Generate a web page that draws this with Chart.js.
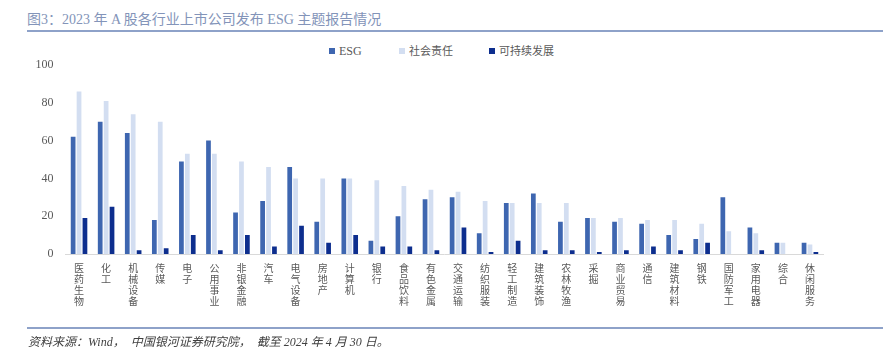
<!DOCTYPE html>
<html><head><meta charset="utf-8">
<script src="https://cdn.jsdelivr.net/npm/chart.js@4/dist/chart.umd.min.js"></script>
<style>
html,body{margin:0;padding:0;background:#fff;width:883px;height:364px;overflow:hidden;}
#wrap{position:relative;width:883px;height:364px;}
#title{position:absolute;left:27px;top:8px;font-family:"Liberation Serif","Noto Sans CJK SC",serif;font-size:14px;color:#8394b9;white-space:nowrap;}
#tline{position:absolute;left:27px;top:30px;width:856px;height:0;border-top:2px solid #8ea2c9;}
#fline{position:absolute;left:27px;top:327px;width:856px;height:0;border-top:2px solid #8ea2c9;}
#foot{position:absolute;left:28px;top:332px;font-family:"Liberation Serif","Noto Sans CJK SC",serif;font-style:italic;font-size:12px;color:#404040;white-space:pre;}
.lg{position:absolute;top:43px;font-family:"Liberation Serif","Noto Sans CJK SC",serif;color:#595959;white-space:nowrap;line-height:16px;}
.sq{position:absolute;top:48px;width:6px;height:6px;}
canvas{position:absolute;left:0;top:0;}
</style></head>
<body><div id="wrap">
<div id="title">图3：2023 年 A 股各行业上市公司发布 ESG 主题报告情况</div>
<div id="tline"></div>
<div class="sq" id="sq0" style="left:329px;"></div><div class="lg" id="lg0" style="left:339px;font-size:12px;"></div>
<div class="sq" id="sq1" style="left:399px;"></div><div class="lg" id="lg1" style="left:409px;font-size:11px;"></div>
<div class="sq" id="sq2" style="left:489px;"></div><div class="lg" id="lg2" style="left:499px;font-size:11px;"></div>
<canvas id="c" width="883" height="364"></canvas>
<div id="fline"></div>
<div id="foot">资料来源：Wind，  中国银河证券研究院，  截至 2024 年 4 月 30 日。</div>
</div>
<script>
const categories = ["医药生物","化工","机械设备","传媒","电子","公用事业","非银金融","汽车","电气设备","房地产","计算机","银行","食品饮料","有色金属","交通运输","纺织服装","轻工制造","建筑装饰","农林牧渔","采掘","商业贸易","通信","建筑材料","钢铁","国防军工","家用电器","综合","休闲服务"];
const seriesNames = ["ESG","社会责任","可持续发展"];
const esg = [62,70,64,18,49,60,22,28,46,17,40,7,20,29,30,11,27,32,17,19,17,16,10,8,30,14,6,6];
const social = [86,81,74,70,53,53,49,46,40,40,40,39,36,34,33,28,27,27,27,19,19,18,18,16,12,11,6,5];
const sustain = [19,25,2,3,10,2,10,4,15,6,10,4,4,2,14,1,7,2,2,1,2,4,2,6,0,2,0,1];
const yTicks = [0,20,40,60,80,100];
const colors = ["#3e66b0","#d3def1","#0d2e8e"];

seriesNames.forEach((n,i)=>{
  document.getElementById('lg'+i).textContent = n;
  document.getElementById('sq'+i).style.background = colors[i];
});

new Chart(document.getElementById('c'), {
  type: 'bar',
  data: {
    labels: categories.map(s => s.split('')),
    datasets: [
      {label: seriesNames[0], data: esg, backgroundColor: colors[0], borderWidth: 0},
      {label: seriesNames[1], data: social, backgroundColor: colors[1], borderWidth: 0},
      {label: seriesNames[2], data: sustain, backgroundColor: colors[2], borderWidth: 0}
    ]
  },
  options: {
    responsive: false,
    animation: false,
    layout: {padding: {left: 35.5, right: 59.5, top: 65, bottom: 30}},
    plugins: {legend: {display: false}, tooltip: {enabled: false}, title: {display: false}},
    datasets: {bar: {categoryPercentage: 0.655, barPercentage: 0.8}},
    scales: {
      x: {
        grid: {display: false, drawTicks: false},
        border: {display: true, color: '#d9d9d9', width: 1},
        ticks: {autoSkip: false, maxRotation: 0, minRotation: 0, padding: 9, color: '#595959',
          font: {family: '"Noto Sans CJK SC"', size: 10, lineHeight: 1.1}},
        afterFit: s => { s.height = 80; }
      },
      y: {
        min: 0, max: 100,
        afterBuildTicks: s => { s.ticks = yTicks.map(v => ({value: v})); },
        grid: {display: false, drawTicks: false},
        border: {display: false},
        ticks: {padding: 12, color: '#595959', font: {family: '"Liberation Serif"', size: 12}},
        afterFit: s => { s.width = 30; }
      }
    }
  }
});
</script>
</body></html>
